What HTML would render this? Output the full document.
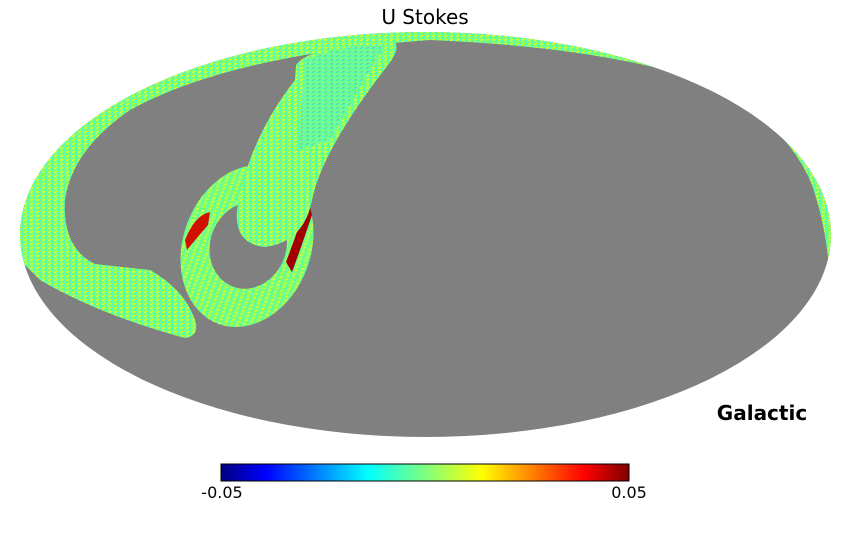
<!DOCTYPE html>
<html><head><style>
body{margin:0;background:#fff;width:850px;height:540px;overflow:hidden;font-family:"DejaVu Sans","Liberation Sans",sans-serif}
</style></head><body>
<svg width="850" height="540" viewBox="0 0 850 540" xmlns="http://www.w3.org/2000/svg">
<defs>
<clipPath id="ell"><ellipse cx="425.5" cy="234.5" rx="405.5" ry="202.5"/></clipPath>
<pattern id="tex" width="6" height="4" patternUnits="userSpaceOnUse">
<rect width="6" height="4" fill="#7dff7a"/>
<rect x="0" y="0" width="2" height="1" fill="#d8ff20"/>
<rect x="3" y="2" width="2" height="1" fill="#40ffb8"/>
<rect x="1" y="3" width="2" height="1" fill="#f0ff10"/>
<rect x="4" y="0" width="1" height="1" fill="#30f0d0"/>
</pattern>
<pattern id="tex2" width="6" height="4" patternUnits="userSpaceOnUse">
<rect width="6" height="4" fill="#60ffa0"/>
<rect x="0" y="0" width="2" height="1" fill="#20d0ff"/>
<rect x="3" y="2" width="2" height="1" fill="#a0ff50"/>
<rect x="1" y="3" width="2" height="1" fill="#40b0ff"/>
</pattern>
<linearGradient id="jet" x1="0" x2="1">
<stop offset="0" stop-color="#00007f"/><stop offset="0.11" stop-color="#0000ff"/>
<stop offset="0.36" stop-color="#00ffff"/><stop offset="0.5" stop-color="#7fff7f"/>
<stop offset="0.64" stop-color="#ffff00"/><stop offset="0.89" stop-color="#ff0000"/>
<stop offset="1" stop-color="#7f0000"/></linearGradient>
</defs>
<text x="425" y="24" font-size="20" text-anchor="middle">U Stokes</text>
<g clip-path="url(#ell)">
<rect x="0" y="0" width="850" height="450" fill="#808080"/>
<path d="M0,240 L40,280 Q100,315 185,338 Q200,336 195,320 Q185,290 150,270 L95,264 Q62,248 65,200 Q72,150 130,110 Q230,55 430,40 Q620,48 720,88 Q790,130 812,185 Q824,220 828,258 L860,258 L860,0 L0,0 Z" fill="url(#tex)"/>
<g transform="rotate(20 247 246)">
<ellipse cx="247" cy="246" rx="64" ry="83" fill="url(#tex)"/>
<ellipse cx="248" cy="245" rx="38" ry="44" fill="#808080"/>
</g>
<path d="M185,240 Q195,215 210,212 L208,225 Q195,240 187,250 Z" fill="#d01000"/>
<path d="M286,262 Q298,230 308,200 L312,215 Q302,245 292,272 Z" fill="#a00000"/>
<path d="M296,65 Q310,45 395,42 Q400,50 388,65 Q322,150 312,200 Q304,242 265,247 Q234,244 237,210 Q248,140 295,80 Z" fill="url(#tex)"/>
<path d="M305,60 Q340,45 385,45 Q370,70 330,140 L300,150 Q300,110 305,60 Z" fill="url(#tex2)" opacity="0.7"/>
</g>
<rect x="221" y="464" width="408" height="17" fill="url(#jet)" stroke="#000" stroke-width="1"/>
<text x="222" y="498" font-size="16" text-anchor="middle">-0.05</text>
<text x="629" y="498" font-size="16" text-anchor="middle">0.05</text>
<text x="762" y="420" font-size="20" font-weight="bold" text-anchor="middle">Galactic</text>
</svg>
</body></html>
